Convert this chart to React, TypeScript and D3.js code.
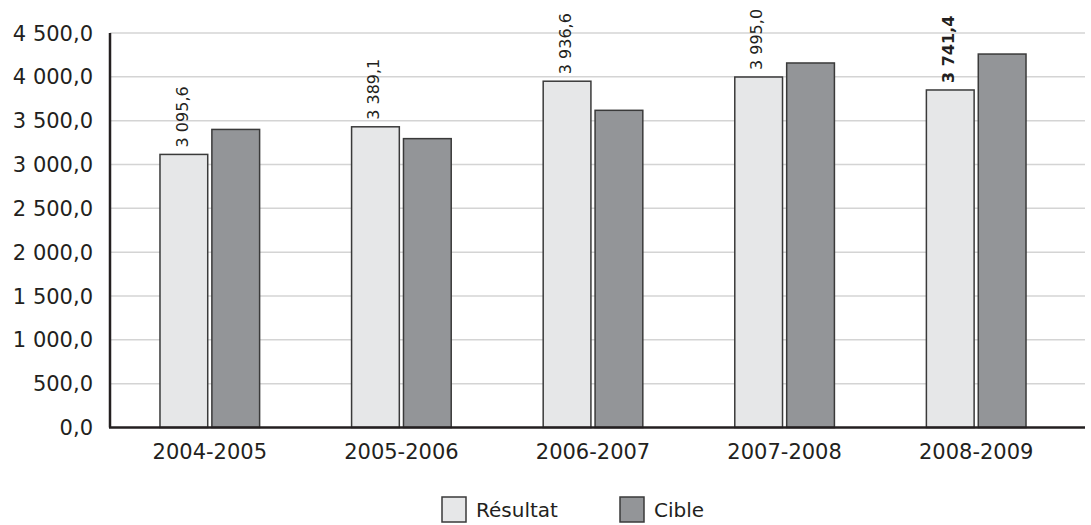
import { useEffect, useRef } from 'react'
import * as d3 from 'd3'

const categories = ['2004-2005', '2005-2006', '2006-2007', '2007-2008', '2008-2009']
const series = ['Résultat', 'Cible']
const resultat = [3115, 3430, 3950, 3998, 3850]
const cible = [3400, 3295, 3618, 4158, 4260]
const resultatLabels = ['3 095,6', '3 389,1', '3 936,6', '3 995,0', '3 741,4']
const boldLabel = [false, false, false, false, true]
const yTicks = [0, 500, 1000, 1500, 2000, 2500, 3000, 3500, 4000, 4500]

const colors: Record<string, string> = { 'Résultat': '#e6e7e8', 'Cible': '#939598' }
const ink = '#231f20'
const font = '"DejaVu Sans", sans-serif'

const fmt = (v: number) => {
  const [i, dec] = v.toFixed(1).split('.')
  return i.replace(/\B(?=(\d{3})+(?!\d))/g, ' ') + ',' + dec
}

export default function App() {
  const svgRef = useRef<SVGSVGElement>(null)

  useEffect(() => {
    document.body.style.margin = '0'
    const svgEl = svgRef.current
    if (!svgEl) return

    const width = 1091
    const height = 525
    const left = 110
    const right = 1085

    const svg = d3.select(svgEl)
    svg.attr('width', width).attr('height', height).selectAll('*').remove()

    const x = d3.scaleBand<string>().domain(categories).range([114, 1072]).paddingInner(0.48).paddingOuter(0.24)
    const xs = d3.scaleBand<string>().domain(series).range([0, x.bandwidth()]).paddingInner(0.08)
    const y = d3.scaleLinear().domain([0, 4500]).range([427.5, 33])

    // Gridlines
    svg.append('g')
      .selectAll('line')
      .data(yTicks.filter(t => t > 0))
      .enter()
      .append('line')
      .attr('x1', left)
      .attr('x2', right)
      .attr('y1', d => y(d))
      .attr('y2', d => y(d))
      .style('stroke', '#d4d4d4')
      .style('stroke-width', '1.5')

    // Y tick labels
    svg.append('g')
      .selectAll('text')
      .data(yTicks)
      .enter()
      .append('text')
      .attr('x', 93)
      .attr('y', d => y(d))
      .attr('dy', '0.36em')
      .attr('text-anchor', 'end')
      .style('fill', ink)
      .style('font-size', '21px')
      .style('font-family', font)
      .text(d => fmt(d))

    // Bars
    const groups = svg.append('g')
      .selectAll('g')
      .data(categories)
      .enter()
      .append('g')
      .attr('transform', d => `translate(${x(d)},0)`)

    groups.selectAll('rect')
      .data((_, i) => [
        { key: 'Résultat', value: resultat[i] },
        { key: 'Cible', value: cible[i] },
      ])
      .enter()
      .append('rect')
      .attr('x', d => xs(d.key)!)
      .attr('y', d => y(d.value))
      .attr('width', xs.bandwidth())
      .attr('height', d => y(0) - y(d.value))
      .style('fill', d => colors[d.key])
      .style('stroke', '#3a3a3a')
      .style('stroke-width', '1.5')

    // Value labels over Résultat bars
    svg.append('g')
      .selectAll('text')
      .data(categories)
      .enter()
      .append('text')
      .attr('transform', (d, i) => {
        const cx = x(d)! + xs('Résultat')! + xs.bandwidth() / 2 - 2
        return `translate(${cx},${y(resultat[i]) - 7}) rotate(-90)`
      })
      .attr('dy', '0.36em')
      .attr('text-anchor', 'start')
      .style('fill', ink)
      .style('font-size', '16px')
      .style('font-weight', (_, i) => (boldLabel[i] ? '700' : '400'))
      .style('font-family', font)
      .text((_, i) => resultatLabels[i])

    // Axes lines
    svg.append('line')
      .attr('x1', left).attr('x2', left)
      .attr('y1', y(4500)).attr('y2', y(0))
      .style('stroke', ink).style('stroke-width', '2.5')
    svg.append('line')
      .attr('x1', left - 1).attr('x2', right)
      .attr('y1', y(0)).attr('y2', y(0))
      .style('stroke', ink).style('stroke-width', '2.5')

    // Category labels
    svg.append('g')
      .selectAll('text')
      .data(categories)
      .enter()
      .append('text')
      .attr('x', d => x(d)! + x.bandwidth() / 2)
      .attr('y', 459)
      .attr('text-anchor', 'middle')
      .style('fill', ink)
      .style('font-size', '21px')
      .style('font-family', font)
      .text(d => d)

    // Legend
    const legendX = [442, 620]
    const legend = svg.append('g')
      .selectAll('g')
      .data(series)
      .enter()
      .append('g')
      .attr('transform', (_, i) => `translate(${legendX[i]},497)`)
    legend.append('rect')
      .attr('width', 24)
      .attr('height', 25)
      .style('fill', d => colors[d])
      .style('stroke', '#3a3a3a')
      .style('stroke-width', '1.5')
    legend.append('text')
      .attr('x', 34)
      .attr('y', 20)
      .style('fill', ink)
      .style('font-size', '20px')
      .style('font-family', font)
      .text(d => d)
  }, [])

  return <svg ref={svgRef} style={{ display: 'block' }} />
}
